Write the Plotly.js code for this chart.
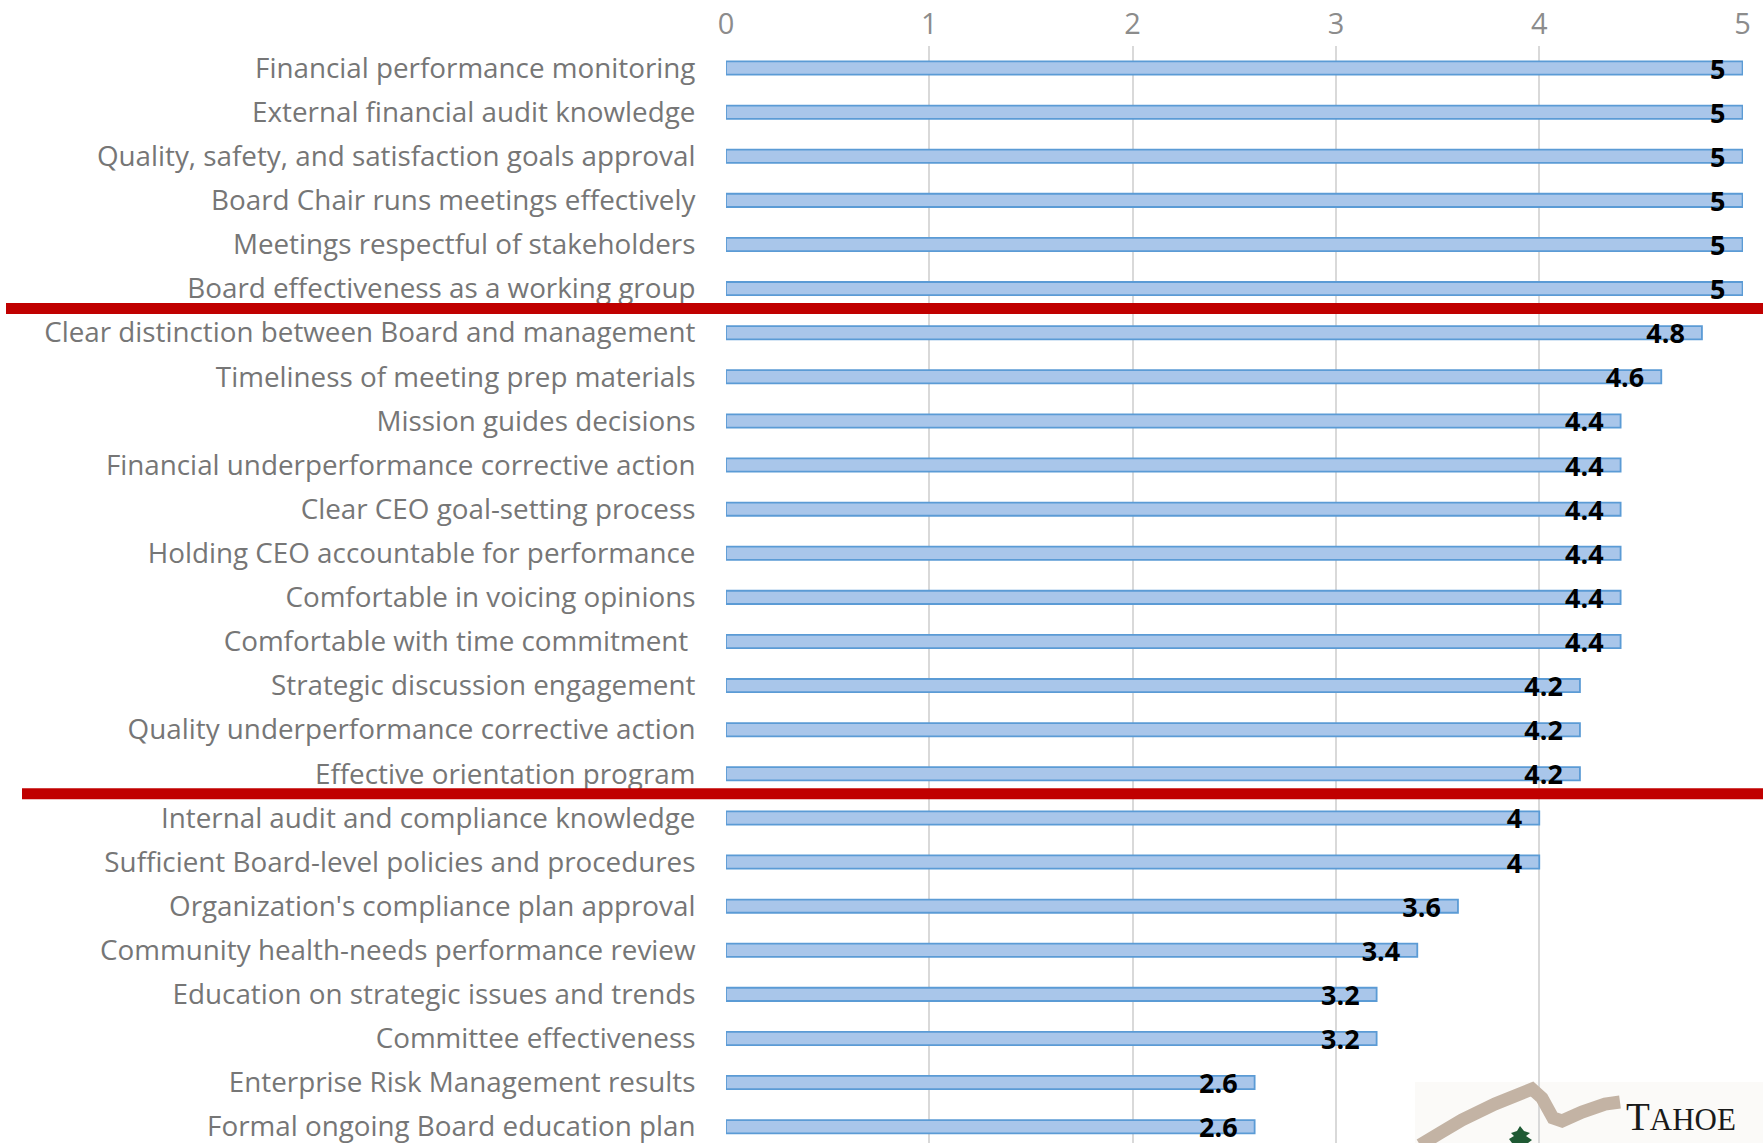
<!DOCTYPE html>
<html>
<head>
<meta charset="utf-8">
<script src="https://cdn.plot.ly/plotly-3.0.1.min.js"></script>
<style>html,body{margin:0;padding:0;background:#fff;}#chart{width:1763px;height:1143px;}</style>
</head>
<body>
<div id="chart"></div>
<script>
const categories = [
  "Financial performance monitoring",
  "External financial audit knowledge",
  "Quality, safety, and satisfaction goals approval",
  "Board Chair runs meetings effectively",
  "Meetings respectful of stakeholders",
  "Board effectiveness as a working group",
  "Clear distinction between Board and management",
  "Timeliness of meeting prep materials",
  "Mission guides decisions",
  "Financial underperformance corrective action",
  "Clear CEO goal-setting process",
  "Holding CEO accountable for performance",
  "Comfortable in voicing opinions",
  "Comfortable with time commitment\u00a0",
  "Strategic discussion engagement",
  "Quality underperformance corrective action",
  "Effective orientation program",
  "Internal audit and compliance knowledge",
  "Sufficient Board-level policies and procedures",
  "Organization's compliance plan approval",
  "Community health-needs performance review",
  "Education on strategic issues and trends",
  "Committee effectiveness",
  "Enterprise Risk Management results",
  "Formal ongoing Board education plan"
];
const scores = [5, 5, 5, 5, 5, 5, 4.8, 4.6, 4.4, 4.4, 4.4, 4.4, 4.4, 4.4, 4.2, 4.2, 4.2, 4, 4, 3.6, 3.4, 3.2, 3.2, 2.6, 2.6];
const xTickValues = [0, 1, 2, 3, 4, 5];
const separatorAfterIndex = [5, 16];

const W = 1763, H = 1143;
const M = {l: 726, r: 20, t: 45.5, b: 0};
const PW = W - M.l - M.r, PH = H - M.t - M.b;
const px = v => (v - M.l) / PW;
const py = v => (H - M.b - v) / PH;

const trace = {
  type: 'bar',
  orientation: 'h',
  y: categories,
  x: scores,
  width: 0.3,
  marker: {color: '#a9c6ea', line: {color: '#5b9bd5', width: 1.8}},
  texttemplate: '%{x}\u00a0\u00a0',
  textposition: 'inside',
  insidetextanchor: 'end',
  textangle: 0,
  constraintext: 'none',
  insidetextfont: {family: 'Open Sans, sans-serif', size: 27, color: '#000', weight: 'bold'},
  hoverinfo: 'skip',
  cliponaxis: false
};

const shapes = [];
const sepStarts = [6, 22];
separatorAfterIndex.forEach((idx, i) => {
  shapes.push({type: 'line', xref: 'paper', yref: 'y', x0: px(sepStarts[i]), x1: px(W), y0: idx + 0.45, y1: idx + 0.45,
    line: {color: '#c00000', width: 11}, layer: 'above'});
});
// logo decoration
shapes.push({type: 'rect', xref: 'paper', yref: 'paper', x0: px(1415), x1: px(1763), y0: py(1143), y1: py(1082),
  fillcolor: '#fbfaf8', line: {width: 0}, layer: 'below'});
const swoosh = [[1420,1145],[1440,1133],[1462,1120],[1495,1104],[1532,1089],[1542,1098],[1553,1118],[1562,1121],[1582,1112],[1605,1104],[1620,1102]];
shapes.push({type: 'path', xref: 'paper', yref: 'paper',
  path: 'M' + swoosh.map(p => px(p[0]) + ',' + py(p[1])).join(' L'),
  line: {color: '#c3b3a4', width: 13}, layer: 'above'});
const tree = [[1520,1126],[1524,1131],[1530,1133],[1526,1136],[1532,1140],[1528,1143],[1512,1143],[1509,1139],[1514,1136],[1511,1133],[1517,1131]];
shapes.push({type: 'path', xref: 'paper', yref: 'paper',
  path: 'M' + tree.map(p => px(p[0]) + ',' + py(p[1])).join(' L') + ' Z',
  fillcolor: '#1f5a34', line: {width: 0}, layer: 'above'});

const annotations = [
  {xref: 'paper', yref: 'paper', x: px(1624), y: py(1140), xanchor: 'left', yanchor: 'bottom', showarrow: false,
   text: 'T<span style="font-size:31px">AHOE</span>', font: {family: 'Liberation Serif, DejaVu Serif, serif', size: 39, color: '#1a1a1a'}},
  {xref: 'paper', yref: 'paper', x: px(1624), y: py(1134), xanchor: 'left', yanchor: 'top', showarrow: false,
   text: 'F<span style="font-size:31px">OREST</span>', font: {family: 'Liberation Serif, DejaVu Serif, serif', size: 39, color: '#1a1a1a'}}
];

const layout = {
  width: W, height: H,
  margin: M,
  paper_bgcolor: '#ffffff', plot_bgcolor: 'rgba(0,0,0,0)',
  showlegend: false,
  xaxis: {
    side: 'top', range: [0, 5.002], tickvals: xTickValues, ticktext: xTickValues.map(String),
    showgrid: true, gridcolor: '#d9d9d9', gridwidth: 2, zeroline: false, showline: false,
    ticks: '', ticklabelstandoff: 5,
    tickfont: {family: 'Open Sans, sans-serif', size: 29, color: '#8c8c8c'}, fixedrange: true
  },
  yaxis: {
    type: 'category', range: [(H - M.t) / 44.13 - 0.5, -0.5], showgrid: false, zeroline: false, showline: false,
    ticks: 'outside', ticklen: 24, tickcolor: 'rgba(0,0,0,0)',
    tickfont: {family: 'Open Sans, sans-serif', size: 27.8, color: '#767676'}, fixedrange: true
  },
  shapes: shapes,
  annotations: annotations
};

Plotly.newPlot('chart', [trace], layout, {staticPlot: true, displayModeBar: false});
</script>
</body>
</html>
